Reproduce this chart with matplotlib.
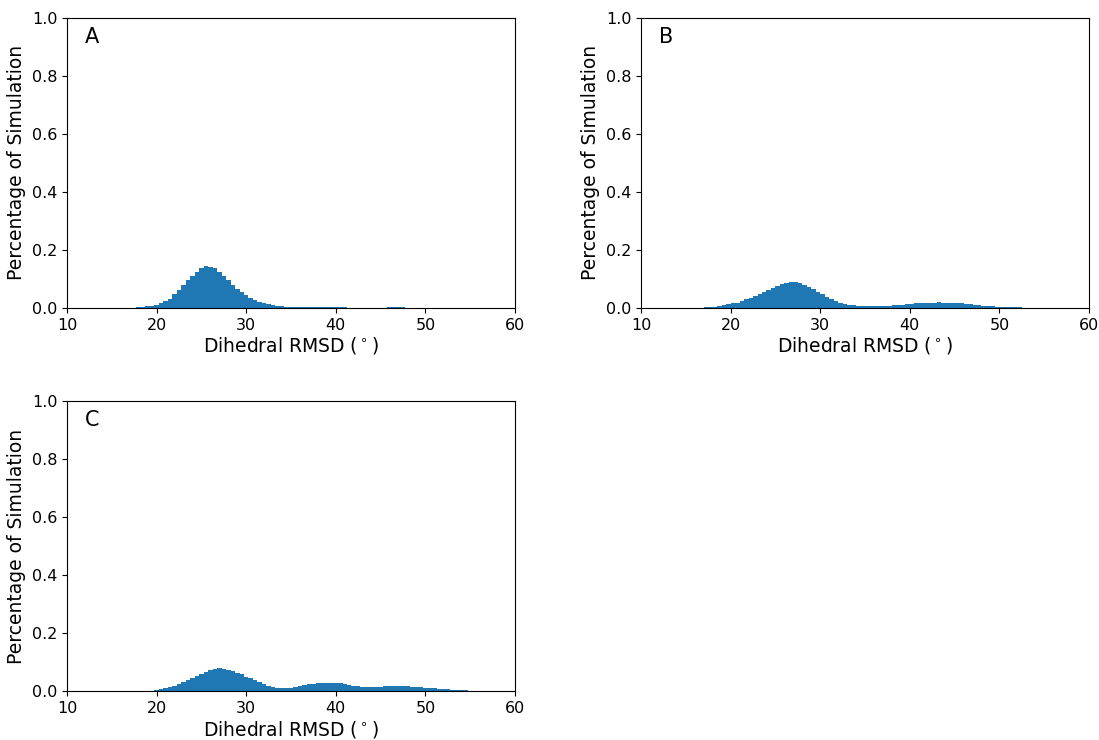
import numpy as np
import matplotlib
matplotlib.use('Agg')
import matplotlib.pyplot as plt

# histogram bins are 0.5 deg wide; first left edge of each panel
bin_width = 0.5
a_start = 17.25
b_start = 16.5
c_start = 19.25

a_vals = [0.001, 0.002, 0.003, 0.005, 0.008, 0.011, 0.016, 0.023, 0.032, 0.046,
          0.061, 0.078, 0.095, 0.111, 0.125, 0.137, 0.143, 0.142, 0.136, 0.125,
          0.111, 0.095, 0.079, 0.066, 0.054, 0.044, 0.034, 0.028, 0.021, 0.016,
          0.013, 0.009, 0.007, 0.005, 0.004, 0.003, 0.0025, 0.002, 0.0015, 0.0015,
          0.0015, 0.0015, 0.002, 0.002, 0.002, 0.002, 0.002, 0.0015, 0.001, 0.001,
          0.001, 0.001, 0.001, 0.001, 0.001, 0.001, 0.001, 0.0012, 0.0012, 0.0012,
          0.0012, 0.001, 0.001, 0.0005, 0.0005]

b_vals = [0.001, 0.002, 0.003, 0.004, 0.006, 0.009, 0.013, 0.015, 0.018, 0.023,
          0.029, 0.034, 0.041, 0.049, 0.055, 0.063, 0.069, 0.076, 0.082, 0.086,
          0.0885, 0.0885, 0.085, 0.079, 0.072, 0.064, 0.055, 0.047, 0.038, 0.029,
          0.022, 0.017, 0.013, 0.011, 0.009, 0.008, 0.0075, 0.007, 0.007, 0.007,
          0.007, 0.0075, 0.008, 0.009, 0.010, 0.011, 0.012, 0.014, 0.015, 0.016,
          0.017, 0.018, 0.018, 0.0185, 0.018, 0.018, 0.017, 0.016, 0.015, 0.013,
          0.012, 0.010, 0.009, 0.007, 0.006, 0.005, 0.004, 0.0035, 0.003, 0.002,
          0.002, 0.0015, 0.001, 0.001, 0.0007, 0.0005, 0.0003]

c_vals = [0.001, 0.003, 0.006, 0.010, 0.014, 0.019, 0.024, 0.030, 0.037, 0.044,
          0.051, 0.058, 0.065, 0.071, 0.076, 0.078, 0.077, 0.074, 0.069, 0.063,
          0.057, 0.050, 0.044, 0.037, 0.031, 0.025, 0.019, 0.015, 0.011, 0.010,
          0.010, 0.012, 0.015, 0.018, 0.021, 0.023, 0.025, 0.027, 0.028, 0.029,
          0.029, 0.028, 0.026, 0.024, 0.022, 0.019, 0.016, 0.014, 0.0135, 0.0135,
          0.014, 0.015, 0.016, 0.017, 0.017, 0.017, 0.0165, 0.016, 0.015, 0.014,
          0.0125, 0.0115, 0.010, 0.009, 0.008, 0.007, 0.006, 0.005, 0.0045, 0.0035,
          0.0025, 0.0015, 0.001]

panels = [('A', a_start, a_vals, [0.061, 0.584, 0.4076, 0.3919]),
          ('B', b_start, b_vals, [0.5833, 0.584, 0.4076, 0.3919]),
          ('C', c_start, c_vals, [0.061, 0.0662, 0.4076, 0.3919])]

fig = plt.figure(figsize=(10.99, 7.4), dpi=100)

for letter, start, vals, rect in panels:
    ax = fig.add_axes(rect)
    edges = start + bin_width * np.arange(len(vals))
    ax.bar(edges, vals, width=bin_width, align='edge', color='#1f77b4', linewidth=0)
    ax.set_xlim(10, 60)
    ax.set_ylim(0, 1.0)
    ax.set_xticks([10, 20, 30, 40, 50, 60])
    ax.set_yticks([0.0, 0.2, 0.4, 0.6, 0.8, 1.0])
    ax.tick_params(labelsize=11.5)
    ax.set_xlabel('Dihedral RMSD ($^\\circ$)', fontsize=13.5, labelpad=2)
    ax.set_ylabel('Percentage of Simulation', fontsize=13.5)
    ax.text(0.04, 0.935, letter, transform=ax.transAxes, fontsize=15, va='center')

fig.savefig('out.png', dpi=100)
